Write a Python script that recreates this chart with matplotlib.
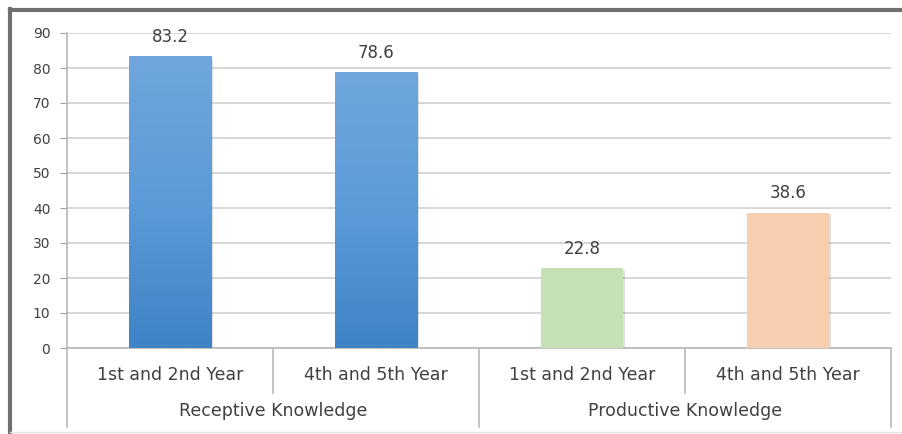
import numpy as np
import matplotlib.pyplot as plt
from matplotlib.colors import LinearSegmentedColormap
import matplotlib.transforms as mtransforms

plt.rcParams['font.family'] = ['DejaVu Sans']

groups = ['Receptive Knowledge', 'Productive Knowledge']
years = ['1st and 2nd Year', '4th and 5th Year', '1st and 2nd Year', '4th and 5th Year']
values = [83.2, 78.6, 22.8, 38.6]
yticks = [0, 10, 20, 30, 40, 50, 60, 70, 80, 90]

text_col = '#404040'
grid_col = '#d0d0d0'
blue_grad = LinearSegmentedColormap.from_list('bluegrad', ['#3e84c6', '#5b9bd8', '#70a6dd'])
fill_cols = [None, None, '#c5e0b4', '#f8cfae']

fig = plt.figure(figsize=(9.03, 4.34), dpi=100)
ax = fig.add_axes([67 / 903, 1 - 348 / 434, 824 / 903, 315 / 434])

x = np.arange(len(values))
width = 0.4
ax.set_xlim(-0.5, len(values) - 0.5)
ax.set_ylim(0, 90)

for i, v in enumerate(values):
    # soft shadow
    ax.bar(x[i] + 0.008, v, width, bottom=-0.4, color='#000000', alpha=0.12, zorder=2)
    if fill_cols[i] is None:
        grad = np.linspace(0, 1, 256).reshape(-1, 1)
        ax.imshow(grad, cmap=blue_grad, origin='lower', aspect='auto',
                  extent=(x[i] - width / 2, x[i] + width / 2, 0, v), zorder=3)
    else:
        ax.bar(x[i], v, width, color=fill_cols[i], zorder=3)
    ax.annotate(f'{v}', (x[i], v), xytext=(0, 14), textcoords='offset points',
                ha='center', va='center', fontsize=12, color=text_col)

ax.set_yticks(yticks)
ax.set_yticklabels([str(t) for t in yticks], fontsize=10, color=text_col)
ax.tick_params(axis='y', length=5, color='#a0a0a0', pad=7)
ax.grid(axis='y', color=grid_col, linewidth=1.2)
ax.set_axisbelow(True)
ax.set_xticks([])
for s in ['top', 'right']:
    ax.spines[s].set_visible(False)
ax.spines['left'].set_color('#b8b8b8')
ax.spines['bottom'].set_color('#b8b8b8')
ax.spines['left'].set_linewidth(1.2)
ax.spines['bottom'].set_linewidth(1.2)

# two-level category axis below the plot
trans = mtransforms.blended_transform_factory(ax.transData, ax.transAxes)
lo1 = -27 / 315
lo2 = -63 / 315
bottom = -79 / 315
for i, lab in enumerate(years):
    ax.text(x[i], lo1, lab, transform=trans, ha='center', va='center',
            fontsize=12.5, color=text_col)
for g, lab in enumerate(groups):
    ax.text(x[2 * g] + 0.5, lo2, lab, transform=trans, ha='center', va='center',
            fontsize=12.5, color=text_col)
for b in np.arange(len(values) + 1) - 0.5:
    full = (b + 0.5) % 2 == 0
    ax.plot([b, b], [0, bottom if full else -45 / 315], transform=trans,
            color='#b8b8b8', linewidth=1.2, clip_on=False)

# outer frame of the pasted chart image
fig.add_artist(plt.Line2D([10 / 903, 10 / 903], [0, 1 - 9 / 434], color='#707070', linewidth=3))
fig.add_artist(plt.Line2D([10 / 903, 1], [1 - 10 / 434, 1 - 10 / 434], color='#707070', linewidth=3))
fig.add_artist(plt.Line2D([10 / 903, 1], [2 / 434, 2 / 434], color='#e4e4e4', linewidth=1))

fig.savefig('out.png', dpi=100)
